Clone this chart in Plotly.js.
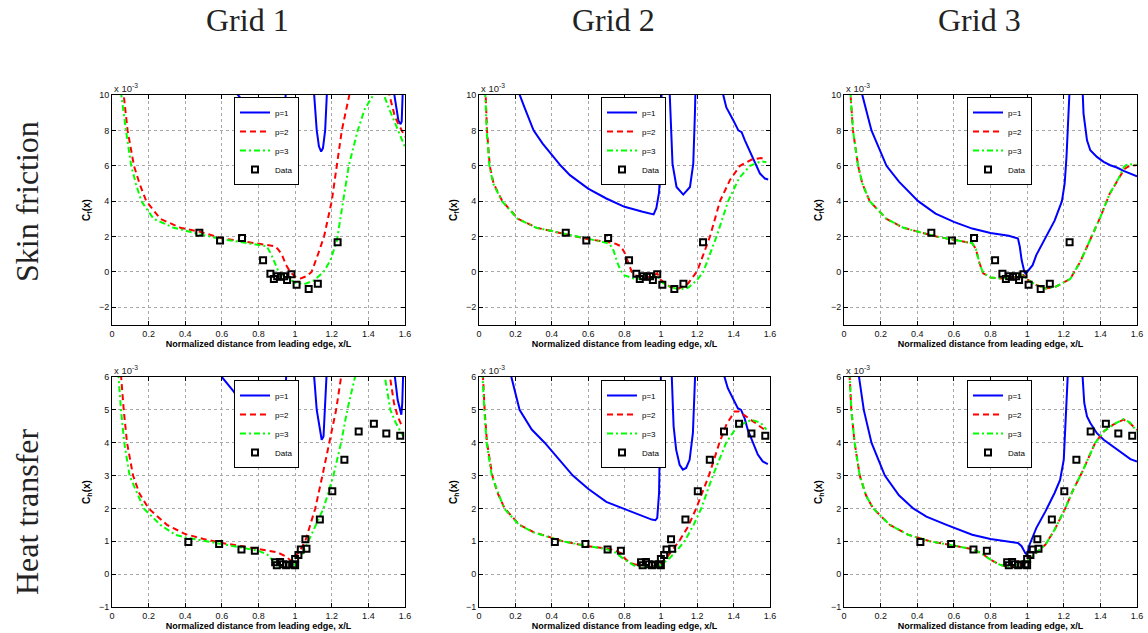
<!DOCTYPE html>
<html><head><meta charset="utf-8">
<script src="https://cdn.plot.ly/plotly-3.0.1.min.js"></script>
<style>html,body{margin:0;padding:0;background:#fff}#chart{width:1148px;height:633px}</style>
</head><body><div id="chart"></div>
<script>
// ---- Experimental data (values in units of 1e-3) ----
const cfDataX = [0.477, 0.59, 0.71, 0.825, 0.865, 0.884, 0.902, 0.923, 0.94, 0.956, 0.98, 1.008, 1.074, 1.124, 1.232];
const cfDataY = [2.21, 1.78, 1.92, 0.66, -0.1, -0.4, -0.24, -0.27, -0.25, -0.46, -0.13, -0.72, -0.97, -0.67, 1.68];
const chDataX = [0.417, 0.585, 0.707, 0.78, 0.891, 0.9, 0.918, 0.933, 0.951, 0.969, 0.991, 1.0, 1.0, 1.018, 1.031, 1.056, 1.062, 1.135, 1.203, 1.269, 1.347, 1.43, 1.498, 1.574];
const chDataY = [0.98, 0.92, 0.75, 0.71, 0.36, 0.27, 0.37, 0.30, 0.27, 0.29, 0.30, 0.27, 0.46, 0.58, 0.75, 1.06, 0.77, 1.66, 2.52, 3.48, 4.34, 4.58, 4.28, 4.21];

// ---- Grid 1, skin friction ----
const g1CfP1X = [0.62, 0.68, 0.72, 0.78, 0.84, 0.88, 0.91, 0.925, 0.935, 0.945, 0.955, 1.08, 1.104, 1.118, 1.13, 1.142, 1.152, 1.164, 1.173, 1.20, 1.50, 1.542, 1.555, 1.564, 1.576, 1.582, 1.587, 1.595];
const g1CfP1Y = [11, 10.1, 9.6, 9.1, 8.6, 8.2, 7.95, 7.9, 8.3, 9.5, 11, 11, 10.0, 8.0, 7.1, 6.8, 7.0, 8.0, 10.0, 11, 11, 10.0, 9.0, 8.55, 8.35, 8.5, 10.0, 11];
const g1CfP2X = [0.06, 0.064, 0.085, 0.12, 0.15, 0.187, 0.264, 0.373, 0.48, 0.6, 0.7, 0.8, 0.85, 0.89, 0.905, 0.927, 0.95, 0.973, 1.0, 1.03, 1.06, 1.09, 1.125, 1.158, 1.2, 1.227, 1.255, 1.296, 1.31, 1.50, 1.515, 1.545, 1.575, 1.6];
const g1CfP2Y = [11, 10, 8, 6, 5, 4, 3, 2.5, 2.27, 1.9, 1.75, 1.6, 1.52, 1.45, 1.3, 1.0, 0.4, 0.0, -0.27, -0.37, -0.25, 0.0, 1.0, 2.0, 4.0, 6.0, 8.0, 10.0, 11, 11, 10.0, 8.76, 8.1, 7.63];
const g1CfP3X = [0.045, 0.051, 0.076, 0.105, 0.13, 0.16, 0.227, 0.336, 0.45, 0.6, 0.7, 0.8, 0.845, 0.869, 0.89, 0.91, 0.94, 0.97, 1.0, 1.05, 1.1, 1.155, 1.19, 1.227, 1.25, 1.293, 1.342, 1.38, 1.427, 1.44, 1.47, 1.485, 1.51, 1.536, 1.573, 1.6];
const g1CfP3Y = [11, 10, 8, 6, 5, 4, 3, 2.5, 2.2, 1.85, 1.7, 1.55, 1.45, 1.0, 0.45, 0.0, -0.25, -0.4, -0.62, -0.69, -0.5, 0.0, 0.6, 1.7, 3.2, 6.0, 8.0, 9.2, 10.0, 11, 11, 10.0, 9.3, 8.66, 7.8, 7.06];

// ---- Grid 2, skin friction ----
const g2CfP1X = [0.21, 0.224, 0.25, 0.3, 0.35, 0.4, 0.45, 0.5, 0.6, 0.7, 0.8, 0.9, 0.95, 0.96, 0.975, 0.985, 0.99, 0.995, 0.998, 1.0, 1.005, 1.045, 1.053, 1.064, 1.086, 1.123, 1.16, 1.178, 1.187, 1.192, 1.33, 1.343, 1.36, 1.38, 1.398, 1.426, 1.444, 1.462, 1.49, 1.517, 1.545, 1.572, 1.59];
const g2CfP1Y = [11, 10, 9.3, 8.0, 7.25, 6.6, 6.0, 5.47, 4.71, 4.15, 3.68, 3.4, 3.25, 3.25, 3.6, 4.2, 4.5, 5.4, 5.3, 7.0, 11, 11, 8.9, 6.1, 4.8, 4.37, 4.8, 6.1, 8.9, 11, 11, 10, 9.3, 8.95, 8.57, 8.0, 7.9, 7.44, 6.78, 6.12, 5.56, 5.28, 5.22];
const g2CfP2X = [0.033, 0.037, 0.044, 0.059, 0.08, 0.128, 0.215, 0.316, 0.45, 0.6, 0.7, 0.75, 0.78, 0.8, 0.82, 0.84, 0.86, 0.9, 0.95, 0.98, 1.0, 1.05, 1.1, 1.15, 1.2, 1.27, 1.325, 1.38, 1.435, 1.5, 1.55, 1.58];
const g2CfP2Y = [11, 10, 8, 6, 5, 4, 3, 2.5, 2.2, 1.85, 1.7, 1.6, 1.45, 1.1, 0.55, 0.0, -0.2, -0.27, -0.3, -0.08, -0.46, -0.84, -0.93, -0.65, 0.05, 2.0, 4.0, 5.2, 6.0, 6.35, 6.44, 6.35];
const g2CfP3X = [0.031, 0.035, 0.042, 0.057, 0.078, 0.126, 0.213, 0.314, 0.45, 0.6, 0.7, 0.72, 0.74, 0.76, 0.78, 0.8, 0.85, 0.9, 0.95, 0.98, 1.0, 1.05, 1.1, 1.15, 1.2, 1.233, 1.306, 1.37, 1.43, 1.49, 1.55, 1.58];
const g2CfP3Y = [11, 10, 8, 6, 5, 4, 3, 2.5, 2.2, 1.85, 1.65, 1.55, 1.2, 0.55, 0.05, -0.2, -0.37, -0.4, -0.37, -0.18, -0.55, -0.84, -0.99, -0.9, -0.45, 0.0, 2.0, 4.0, 5.3, 6.0, 6.25, 6.2];

// ---- Grid 3, skin friction ----
const g3CfP1X = [0.09, 0.1, 0.15, 0.232, 0.3, 0.405, 0.5, 0.6, 0.7, 0.8, 0.9, 0.95, 0.96, 0.97, 0.985, 0.99, 1.0, 1.03, 1.05, 1.1, 1.15, 1.19, 1.205, 1.215, 1.222, 1.228, 1.235, 1.30, 1.303, 1.308, 1.327, 1.345, 1.381, 1.418, 1.454, 1.49, 1.527, 1.564, 1.6];
const g3CfP1Y = [11, 10, 8, 6, 5.1, 4, 3.3, 2.83, 2.45, 2.2, 2.04, 1.89, 1.42, 0.67, 0.0, -0.08, 0.0, 0.38, 0.95, 1.9, 2.9, 4.0, 5.0, 6.5, 8.6, 10, 11, 11, 10, 8.95, 7.44, 6.88, 6.5, 6.22, 6.03, 5.9, 5.71, 5.56, 5.4];
const g3CfP2X = [0.032, 0.036, 0.049, 0.077, 0.1, 0.14, 0.232, 0.323, 0.505, 0.6, 0.65, 0.7, 0.72, 0.74, 0.76, 0.8, 0.85, 0.9, 0.95, 0.98, 1.0, 1.05, 1.1, 1.15, 1.2, 1.235, 1.29, 1.345, 1.4, 1.45, 1.5, 1.53, 1.55, 1.6];
const g3CfP2Y = [11, 10, 8, 6, 5.0, 4, 3, 2.5, 2.0, 1.8, 1.72, 1.62, 1.3, 0.5, -0.08, -0.31, -0.37, -0.31, -0.27, -0.18, -0.42, -0.74, -0.93, -0.87, -0.6, -0.4, 0.57, 1.8, 3.1, 4.4, 5.3, 5.8, 5.95, 6.05];
const g3CfP3X = [0.032, 0.036, 0.049, 0.077, 0.1, 0.14, 0.232, 0.323, 0.505, 0.6, 0.65, 0.7, 0.72, 0.74, 0.76, 0.8, 0.85, 0.9, 0.95, 0.98, 1.0, 1.05, 1.1, 1.15, 1.2, 1.235, 1.29, 1.345, 1.4, 1.45, 1.5, 1.53, 1.55, 1.6];
const g3CfP3Y = [11, 10, 8, 6, 5.0, 4, 3, 2.5, 2.0, 1.8, 1.72, 1.62, 1.3, 0.5, -0.08, -0.31, -0.37, -0.31, -0.27, -0.18, -0.42, -0.74, -0.93, -0.87, -0.6, -0.4, 0.57, 1.8, 3.1, 4.4, 5.3, 5.95, 6.1, 6.05];

// ---- Grid 1, heat transfer ----
const g1ChP1X = [0.58, 0.6, 0.664, 0.736, 0.809, 0.864, 0.891, 0.909, 0.927, 0.94, 0.951, 0.955, 1.10, 1.104, 1.118, 1.136, 1.145, 1.155, 1.164, 1.173, 1.18, 1.54, 1.545, 1.56, 1.573, 1.58, 1.585, 1.59, 1.595];
const g1ChP1Y = [7, 6, 5.56, 5.0, 4.6, 4.19, 3.94, 3.89, 4.04, 4.7, 6, 7, 7, 6, 5.0, 4.29, 4.09, 4.19, 5.0, 6, 7, 7, 6, 5.3, 5.0, 4.85, 5.2, 6, 7];
const g1ChP2X = [0.048, 0.05, 0.064, 0.082, 0.115, 0.15, 0.2, 0.3, 0.4, 0.5, 0.6, 0.7, 0.8, 0.9, 0.95, 0.97, 0.98, 1.0, 1.03, 1.055, 1.11, 1.149, 1.187, 1.224, 1.251, 1.26, 1.50, 1.518, 1.54, 1.56, 1.58, 1.59];
const g1ChP2Y = [7, 6, 5, 4, 3, 2.45, 2.0, 1.5, 1.22, 1.07, 0.95, 0.85, 0.77, 0.67, 0.54, 0.44, 0.39, 0.52, 0.75, 1.0, 2, 3, 4, 5, 6, 7, 7, 6, 5.2, 4.8, 4.55, 4.5];
const g1ChP3X = [0.034, 0.036, 0.049, 0.067, 0.096, 0.173, 0.264, 0.345, 0.4, 0.5, 0.6, 0.7, 0.8, 0.85, 0.88, 0.9, 0.95, 1.0, 1.03, 1.073, 1.155, 1.209, 1.251, 1.285, 1.327, 1.34, 1.48, 1.49, 1.52, 1.55, 1.575, 1.59];
const g1ChP3Y = [7, 6, 5, 4, 3, 2, 1.5, 1.2, 1.12, 1.02, 0.92, 0.83, 0.71, 0.59, 0.39, 0.26, 0.19, 0.29, 0.49, 1.0, 2, 3, 4, 5, 6, 7, 7, 6, 5.0, 4.6, 4.35, 4.2];

// ---- Grid 2, heat transfer ----
const g2ChP1X = [0.17, 0.178, 0.223, 0.29, 0.361, 0.44, 0.516, 0.6, 0.7, 0.791, 0.9, 0.95, 0.97, 0.98, 0.99, 0.995, 1.0, 1.003, 1.05, 1.06, 1.07, 1.084, 1.103, 1.121, 1.139, 1.158, 1.176, 1.185, 1.189, 1.195, 1.34, 1.35, 1.368, 1.386, 1.405, 1.423, 1.441, 1.46, 1.478, 1.505, 1.533, 1.56, 1.588];
const g2ChP1Y = [7, 6, 5, 4.4, 4, 3.5, 3, 2.6, 2.2, 2.0, 1.76, 1.66, 1.64, 1.71, 2.47, 4, 6, 7, 7, 6, 4.5, 3.79, 3.33, 3.18, 3.23, 3.48, 4.29, 5.51, 6, 7, 7, 6, 5.66, 5.46, 5.26, 5.05, 5.0, 4.75, 4.39, 3.99, 3.64, 3.43, 3.35];
const g2ChP2X = [0.02, 0.022, 0.031, 0.044, 0.073, 0.1, 0.141, 0.223, 0.3, 0.4, 0.46, 0.6, 0.7, 0.75, 0.78, 0.8, 0.83, 0.86, 0.9, 0.95, 0.98, 1.0, 1.03, 1.06, 1.1, 1.15, 1.194, 1.264, 1.322, 1.36, 1.405, 1.43, 1.47, 1.52, 1.58];
const g2ChP2Y = [7, 6, 5, 4, 3, 2.5, 2, 1.5, 1.28, 1.1, 1.0, 0.85, 0.78, 0.72, 0.64, 0.49, 0.34, 0.29, 0.27, 0.24, 0.26, 0.34, 0.49, 0.7, 1.0, 1.45, 2, 3, 4, 4.55, 4.95, 4.95, 4.8, 4.6, 4.35];
const g2ChP3X = [0.018, 0.02, 0.029, 0.042, 0.07, 0.138, 0.22, 0.3, 0.4, 0.46, 0.6, 0.7, 0.75, 0.8, 0.83, 0.86, 0.9, 0.95, 1.0, 1.05, 1.1, 1.13, 1.18, 1.222, 1.286, 1.359, 1.42, 1.5, 1.55, 1.58];
const g2ChP3Y = [7, 6, 5, 4, 3, 2, 1.5, 1.27, 1.1, 1.0, 0.85, 0.76, 0.66, 0.44, 0.34, 0.24, 0.24, 0.22, 0.27, 0.5, 0.8, 1.0, 1.5, 2, 3, 4, 4.5, 4.7, 4.6, 4.4];

// ---- Grid 3, heat transfer ----
const g3ChP1X = [0.078, 0.082, 0.108, 0.15, 0.223, 0.3, 0.378, 0.45, 0.56, 0.7, 0.8, 0.9, 0.95, 0.97, 0.99, 1.0, 1.01, 1.05, 1.1, 1.15, 1.18, 1.2, 1.21, 1.22, 1.225, 1.23, 1.30, 1.303, 1.312, 1.327, 1.345, 1.381, 1.418, 1.454, 1.491, 1.527, 1.564, 1.6];
const g3ChP1Y = [7, 6, 5, 4, 3, 2.4, 2, 1.75, 1.5, 1.2, 1.07, 1.0, 0.95, 0.85, 0.64, 0.59, 0.85, 1.4, 1.91, 2.47, 2.87, 3.48, 4.49, 5.51, 6, 7, 7, 6, 5.21, 4.8, 4.6, 4.29, 4.09, 3.94, 3.79, 3.64, 3.5, 3.43];
const g3ChP2X = [0.029, 0.031, 0.04, 0.058, 0.086, 0.12, 0.159, 0.25, 0.35, 0.469, 0.6, 0.7, 0.75, 0.8, 0.85, 0.88, 0.9, 0.95, 0.98, 1.0, 1.05, 1.1, 1.15, 1.208, 1.25, 1.3, 1.372, 1.42, 1.47, 1.527, 1.56, 1.6];
const g3ChP2Y = [7, 6, 5, 4, 3, 2.4, 2, 1.5, 1.2, 1.0, 0.87, 0.76, 0.64, 0.44, 0.29, 0.24, 0.24, 0.29, 0.29, 0.39, 0.64, 0.9, 1.35, 2, 2.55, 3.1, 4, 4.35, 4.55, 4.7, 4.6, 4.39];
const g3ChP3X = [0.029, 0.031, 0.04, 0.058, 0.086, 0.12, 0.159, 0.25, 0.35, 0.469, 0.6, 0.7, 0.75, 0.8, 0.85, 0.88, 0.9, 0.95, 0.98, 1.0, 1.05, 1.1, 1.15, 1.208, 1.25, 1.3, 1.372, 1.42, 1.47, 1.527, 1.56, 1.6];
const g3ChP3Y = [7, 6, 5, 4, 3, 2.4, 2, 1.5, 1.2, 1.0, 0.87, 0.76, 0.64, 0.44, 0.29, 0.24, 0.24, 0.29, 0.29, 0.39, 0.64, 0.9, 1.35, 2, 2.55, 3.1, 4, 4.35, 4.55, 4.72, 4.62, 4.35];

const seriesNames = ['p=1', 'p=2', 'p=3', 'Data'];
const gridTitles = ['Grid 1', 'Grid 2', 'Grid 3'];
const rowTitles = ['Skin friction', 'Heat transfer'];
const xTitle = 'Normalized distance from leading edge, x/L';
const yTitles = ['C<sub>f</sub>(x)', 'C<sub>h</sub>(x)'];

// ---- layout geometry (pixels) ----
const W = 1148, H = 633;
const cols = [[112, 405], [479, 770], [844, 1137]];
const rows = [[95, 325], [377, 607]];
const legendLeft = [234, 601, 967];
const legendTop = [97, 380];
const yRanges = [[-3, 10], [-1, 6]];
const yDticks = [2, 1];

const curves = [
  [[g1CfP1X, g1CfP1Y, g1CfP2X, g1CfP2Y, g1CfP3X, g1CfP3Y], [g2CfP1X, g2CfP1Y, g2CfP2X, g2CfP2Y, g2CfP3X, g2CfP3Y], [g3CfP1X, g3CfP1Y, g3CfP2X, g3CfP2Y, g3CfP3X, g3CfP3Y]],
  [[g1ChP1X, g1ChP1Y, g1ChP2X, g1ChP2Y, g1ChP3X, g1ChP3Y], [g2ChP1X, g2ChP1Y, g2ChP2X, g2ChP2Y, g2ChP3X, g2ChP3Y], [g3ChP1X, g3ChP1Y, g3ChP2X, g3ChP2Y, g3ChP3X, g3ChP3Y]]
];
const dataPts = [[cfDataX, cfDataY], [chDataX, chDataY]];

const lineStyles = [
  {color: '#0000ff', width: 2, dash: 'solid'},
  {color: '#ff0000', width: 2, dash: '6px,4px'},
  {color: '#00ff00', width: 2, dash: '6px,3px,2px,3px'}
];

const sans = 'Arial, "Liberation Sans", sans-serif';
const tickFont = {family: sans, size: 9, color: '#111'};
const traces = [];
const layout = {
  width: W, height: H, margin: {l: 0, r: 0, t: 0, b: 0},
  paper_bgcolor: '#fff', plot_bgcolor: '#fff', showlegend: true,
  annotations: [], font: {family: sans}
};

for (let r = 0; r < 2; r++) {
  for (let c = 0; c < 3; c++) {
    const k = r * 3 + c + 1;
    const sfx = (k === 1 ? '' : String(k));
    const xa = 'x' + sfx, ya = 'y' + sfx, lg = 'legend' + sfx;
    const set = curves[r][c];
    for (let s = 0; s < 3; s++) {
      traces.push({
        type: 'scatter', mode: 'lines', x: set[2 * s], y: set[2 * s + 1],
        name: seriesNames[s], xaxis: xa, yaxis: ya, legend: lg,
        line: lineStyles[s], hoverinfo: 'skip'
      });
    }
    traces.push({
      type: 'scatter', mode: 'markers', x: dataPts[r][0], y: dataPts[r][1],
      name: seriesNames[3], xaxis: xa, yaxis: ya, legend: lg,
      marker: {symbol: 'square-open', size: 6, color: '#000', line: {width: 2, color: '#000'}},
      hoverinfo: 'skip'
    });
    layout['xaxis' + sfx] = {
      domain: [cols[c][0] / W, cols[c][1] / W], anchor: ya, range: [0, 1.6], tick0: 0, dtick: 0.2,
      showline: true, linecolor: '#000', linewidth: 1, mirror: 'ticks', ticks: 'inside', ticklen: 4,
      tickcolor: '#000', showgrid: true, gridcolor: '#a8a8a8', griddash: 'dot', gridwidth: 1,
      zeroline: false, tickfont: tickFont, automargin: false, fixedrange: true,
      title: {text: '<b>' + xTitle + '</b>', font: {family: sans, size: 9, color: '#000'}, standoff: 1}
    };
    layout['yaxis' + sfx] = {
      domain: [1 - rows[r][1] / H, 1 - rows[r][0] / H], anchor: xa, range: yRanges[r], tick0: 0, dtick: yDticks[r],
      showline: true, linecolor: '#000', linewidth: 1, mirror: 'ticks', ticks: 'inside', ticklen: 4,
      tickcolor: '#000', showgrid: true, gridcolor: '#a8a8a8', griddash: 'dot', gridwidth: 1,
      zeroline: false, tickfont: tickFont, automargin: false, fixedrange: true,
      title: {text: '<b>' + yTitles[r] + '</b>', font: {family: sans, size: 10, color: '#000'}, standoff: 6}
    };
    layout[lg] = {
      x: legendLeft[c] / W, y: 1 - legendTop[r] / H, xanchor: 'left', yanchor: 'top',
      bgcolor: '#fff', bordercolor: '#000', borderwidth: 1, itemwidth: 30,
      font: {family: sans, size: 8, color: '#000'},
      tracegroupgap: 0
    };
    layout.annotations.push({
      xref: 'paper', yref: 'paper', x: cols[c][0] / W, y: 1 - rows[r][0] / H,
      xanchor: 'left', yanchor: 'bottom', showarrow: false, yshift: -1,
      text: 'x 10<sup>-3</sup>', font: {family: sans, size: 9.5, color: '#222'}
    });
  }
}
const gridCenters = [247, 613, 979];
gridTitles.forEach((t, i) => layout.annotations.push({
  xref: 'paper', yref: 'paper', x: gridCenters[i] / W, y: 1 - 20 / H, xanchor: 'center', yanchor: 'middle',
  showarrow: false, text: t, font: {family: '"Liberation Serif", "DejaVu Serif", serif', size: 32, color: '#222'}
}));
const rowCenters = [202, 512];
rowTitles.forEach((t, i) => layout.annotations.push({
  xref: 'paper', yref: 'paper', x: 27 / W, y: 1 - rowCenters[i] / H, xanchor: 'center', yanchor: 'middle',
  showarrow: false, textangle: -90, text: t, font: {family: '"Liberation Serif", "DejaVu Serif", serif', size: 32, color: '#222'}
}));

Plotly.newPlot('chart', traces, layout, {staticPlot: true, displayModeBar: false});
</script>
</body></html>
